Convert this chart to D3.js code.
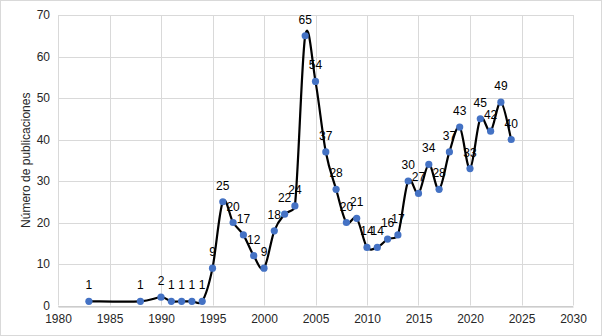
<!DOCTYPE html>
<html>
<head>
<meta charset="utf-8">
<script src="https://cdn.jsdelivr.net/npm/d3@7"></script>
<style>
  html, body { margin: 0; padding: 0; background: #fff; }
  svg { display: block; font-family: "Liberation Sans", Arial, sans-serif; }
</style>
</head>
<body>
<svg id="chart" width="602" height="336"></svg>
<script>
// Publications per year
const years  = [1983, 1988, 1990, 1991, 1992, 1993, 1994, 1995, 1996, 1997, 1998, 1999, 2000,
                2001, 2002, 2003, 2004, 2005, 2006, 2007, 2008, 2009, 2010, 2011, 2012, 2013,
                2014, 2015, 2016, 2017, 2018, 2019, 2020, 2021, 2022, 2023, 2024];
const counts = [1, 1, 2, 1, 1, 1, 1, 9, 25, 20, 17, 12, 9,
                18, 22, 24, 65, 54, 37, 28, 20, 21, 14, 14, 16, 17,
                30, 27, 34, 28, 37, 43, 33, 45, 42, 49, 40];
const xTicks = [1980, 1985, 1990, 1995, 2000, 2005, 2010, 2015, 2020, 2025, 2030];
const yTicks = [0, 10, 20, 30, 40, 50, 60, 70];
const yTitle = "Número de publicaciones";

const data = years.map((y, i) => ({ year: y, value: counts[i] }));

const W = 602, H = 336;
const m = { left: 58, right: 29, top: 15, bottom: 30.5 };
const svg = d3.select("#chart");

// Chart border
svg.append("rect")
  .attr("x", 0.5).attr("y", 0.5)
  .attr("width", W - 1).attr("height", H - 1)
  .attr("fill", "#fff").attr("stroke", "#d9d9d9");

const x = d3.scaleLinear().domain([1980, 2030]).range([m.left, W - m.right]);
const y = d3.scaleLinear().domain([0, 70]).range([H - m.bottom, m.top]);

// Gridlines
const grid = svg.append("g").attr("stroke", "#d9d9d9").attr("stroke-width", 1);
grid.selectAll("line.h").data(yTicks).join("line")
  .attr("x1", x(1980)).attr("x2", x(2030))
  .attr("y1", d => Math.round(y(d)) + 0.5).attr("y2", d => Math.round(y(d)) + 0.5);
grid.selectAll("line.v").data(xTicks).join("line")
  .attr("y1", y(0)).attr("y2", y(70))
  .attr("x1", d => Math.round(x(d)) + 0.5).attr("x2", d => Math.round(x(d)) + 0.5);

// Axes (labels only)
const xAxis = svg.append("g")
  .attr("transform", `translate(0,${Math.round(y(0)) + 0.5})`)
  .call(d3.axisBottom(x).tickValues(xTicks).tickFormat(d3.format("d")).tickSize(0).tickPadding(8));
xAxis.select(".domain").attr("stroke", "#bfbfbf");
xAxis.selectAll("text").attr("font-size", 12).attr("fill", "#262626")
  .attr("font-family", "Liberation Sans, Arial, sans-serif");

const yAxis = svg.append("g")
  .attr("transform", `translate(${m.left},0)`)
  .call(d3.axisLeft(y).tickValues(yTicks).tickSize(0).tickPadding(8));
yAxis.select(".domain").remove();
yAxis.selectAll("text").attr("font-size", 12).attr("fill", "#262626")
  .attr("font-family", "Liberation Sans, Arial, sans-serif");

// Axis title
svg.append("text")
  .attr("transform", `translate(27,${(y(0) + y(70)) / 2}) rotate(-90)`)
  .attr("text-anchor", "middle")
  .attr("dominant-baseline", "middle")
  .attr("font-size", 12).attr("fill", "#262626")
  .text(yTitle);

// Smoothed line: Catmull-Rom style Bezier segments whose control handles
// are capped relative to the segment length, to limit overshoot.
function smoothPath(pts) {
  const p = d3.path();
  const n = pts.length;
  const cap = 0.5;
  p.moveTo(pts[0][0], pts[0][1]);
  for (let i = 0; i < n - 1; i++) {
    const p0 = pts[Math.max(i - 1, 0)], p1 = pts[i], p2 = pts[i + 1], p3 = pts[Math.min(i + 2, n - 1)];
    const seg = Math.hypot(p2[0] - p1[0], p2[1] - p1[1]);
    let t1 = [(p2[0] - p0[0]) / 6, (p2[1] - p0[1]) / 6];
    let t2 = [(p3[0] - p1[0]) / 6, (p3[1] - p1[1]) / 6];
    const l1 = Math.hypot(t1[0], t1[1]), l2 = Math.hypot(t2[0], t2[1]);
    if (l1 > cap * seg) t1 = t1.map(v => v * cap * seg / l1);
    if (l2 > cap * seg) t2 = t2.map(v => v * cap * seg / l2);
    p.bezierCurveTo(p1[0] + t1[0], p1[1] + t1[1], p2[0] - t2[0], p2[1] - t2[1], p2[0], p2[1]);
  }
  return p.toString();
}

svg.append("path")
  .attr("d", smoothPath(data.map(d => [x(d.year), y(d.value)])))
  .attr("fill", "none")
  .attr("stroke", "#000")
  .attr("stroke-width", 2.2)
  .attr("stroke-linejoin", "round");

// Markers
svg.append("g").selectAll("circle").data(data).join("circle")
  .attr("cx", d => x(d.year)).attr("cy", d => y(d.value))
  .attr("r", 3.6).attr("fill", "#4472c4");

// Value labels above each point
svg.append("g").selectAll("text").data(data).join("text")
  .attr("x", d => x(d.year)).attr("y", d => y(d.value) - 12)
  .attr("text-anchor", "middle")
  .attr("font-size", 12).attr("fill", "#000")
  .text(d => d.value);
</script>
</body>
</html>
